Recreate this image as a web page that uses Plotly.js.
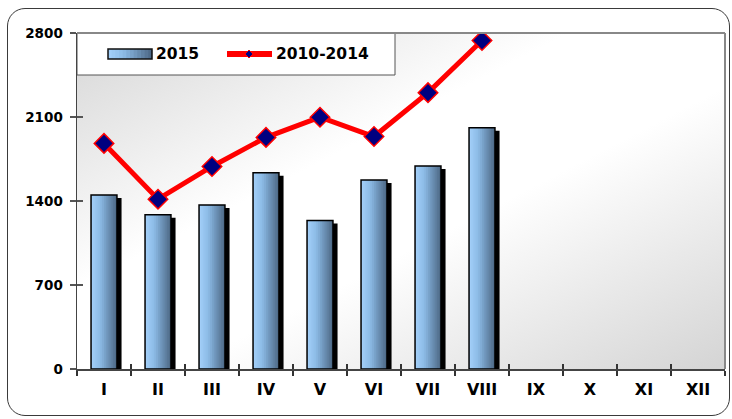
<!DOCTYPE html>
<html>
<head>
<meta charset="utf-8">
<script src="https://cdn.plot.ly/plotly-3.0.1.min.js"></script>
<style>
  html, body { margin: 0; padding: 0; background: #ffffff; }
  #wrap { position: relative; width: 732px; height: 419px; overflow: hidden; }
  #chart { position: absolute; left: 0; top: 0; width: 732px; height: 419px; }
  #frame { position: absolute; left: 7px; top: 8px; width: 721px; height: 406px;
           border: 1.5px solid #3a3a3a; border-radius: 18px; pointer-events: none; }
</style>
</head>
<body>
<div id="wrap">
  <div id="chart"></div>
  <div id="frame"></div>
</div>
<script>
// ---- data ----
const months = ['I','II','III','IV','V','VI','VII','VIII','IX','X','XI','XII'];
const months2015 = ['I','II','III','IV','V','VI','VII','VIII'];
const values2015 = [1450, 1285, 1367, 1636, 1238, 1575, 1692, 2010];
const values2010_2014 = [1880, 1415, 1688, 1930, 2098, 1937, 2303, 2737];
const yTicks = [0, 700, 1400, 2100, 2800];
const seriesNames = ['2015', '2010-2014'];

// ---- styling helpers ----
const FONT = 'DejaVu Sans, Verdana, sans-serif';
function lerp(a, b, t) { return Math.round(a + (b - a) * t); }
function hex(c) { return [parseInt(c.slice(1,3),16), parseInt(c.slice(3,5),16), parseInt(c.slice(5,7),16)]; }
const gradStops = [[0, '#a4d0fa'], [0.35, '#8cbbe6'], [1, '#4b6683']];
function gradColor(t) {
  for (let i = 0; i < gradStops.length - 1; i++) {
    const [t0, c0] = gradStops[i], [t1, c1] = gradStops[i + 1];
    if (t <= t1) {
      const u = (t - t0) / (t1 - t0), a = hex(c0), b = hex(c1);
      return 'rgb(' + lerp(a[0], b[0], u) + ',' + lerp(a[1], b[1], u) + ',' + lerp(a[2], b[2], u) + ')';
    }
  }
  return gradStops[gradStops.length - 1][1];
}

const BAR_W = 0.48;
const traces = [];

// shadow
traces.push({
  type: 'bar', x: months2015, y: values2015, base: -25,
  width: BAR_W, offset: -BAR_W / 2 + 0.085,
  marker: { color: '#000000', line: { width: 0 } },
  showlegend: false, hoverinfo: 'skip'
});
// gradient: each slice runs from its start to the right edge, later slices cover earlier ones (no seams)
const N = 14;
for (let i = 0; i < N; i++) {
  traces.push({
    type: 'bar', x: months2015, y: values2015,
    width: BAR_W - i * BAR_W / N, offset: -BAR_W / 2 + i * BAR_W / N,
    marker: { color: gradColor((i + 0.5) / N), line: { width: 0 } },
    showlegend: false, hoverinfo: 'skip'
  });
}
// outline
traces.push({
  type: 'bar', name: seriesNames[0], x: months2015, y: values2015,
  width: BAR_W, offset: -BAR_W / 2,
  marker: { color: 'rgba(0,0,0,0)', line: { color: '#000000', width: 1.5 } },
  showlegend: false
});
// line
traces.push({
  type: 'scatter', mode: 'lines+markers', name: seriesNames[1],
  x: months2015, y: values2010_2014,
  line: { color: '#ff0000', width: 5 },
  marker: { symbol: 'diamond', size: 15, color: '#000080', line: { color: '#ff0000', width: 1.5 } },
  showlegend: false
});
// helper trace for overlay (cross) tick axes
traces.push({ type: 'scatter', x: [], y: [], xaxis: 'x2', yaxis: 'y2', showlegend: false, hoverinfo: 'skip' });

// background gradient
const svgBg = "<svg xmlns='http://www.w3.org/2000/svg' width='100' height='100' viewBox='0 0 100 100' preserveAspectRatio='none'>" +
  "<defs><linearGradient id='g' x1='0' y1='0' x2='1' y2='1'>" +
  "<stop offset='0' stop-color='#d6d6d6'/><stop offset='0.38' stop-color='#ffffff'/>" +
  "<stop offset='0.58' stop-color='#ffffff'/><stop offset='1' stop-color='#d4d4d4'/>" +
  "</linearGradient></defs><rect width='100' height='100' fill='url(#g)'/></svg>";

// legend (drawn manually)
const L = 77, R = 725, T = 33, B = 369;
const px = v => (v - L) / (R - L);
const py = v => (B - v) / (B - T);
const shapes = [
  { type: 'rect', xref: 'paper', yref: 'paper', x0: px(L), x1: px(395), y0: py(75), y1: 1,
    fillcolor: '#ffffff', line: { color: '#555555', width: 1 }, layer: 'below' },
  // top & right borders of the plot area
  { type: 'line', xref: 'paper', yref: 'paper', x0: 0, x1: 1, y0: 1, y1: 1, line: { color: '#888888', width: 2 } },
  { type: 'line', xref: 'paper', yref: 'paper', x0: 1, x1: 1, y0: 0, y1: 1, line: { color: '#888888', width: 2 } },
  // legend line symbol
  { type: 'line', xref: 'paper', yref: 'paper', x0: px(227), x1: px(272), y0: py(54), y1: py(54),
    line: { color: '#ff0000', width: 6 } },
  { type: 'path', xref: 'paper', yref: 'paper',
    path: 'M' + px(249) + ',' + py(50) + ' L' + px(253) + ',' + py(54) + ' L' + px(249) + ',' + py(58) + ' L' + px(245) + ',' + py(54) + ' Z',
    fillcolor: '#000080', line: { color: '#ff0000', width: 1 } }
];
// legend bar symbol (gradient slices + outline)
const S = 12;
for (let i = 0; i < S; i++) {
  shapes.push({ type: 'rect', xref: 'paper', yref: 'paper',
    x0: px(108 + i * 44 / S), x1: px(152), y0: py(59), y1: py(49),
    fillcolor: gradColor((i + 0.5) / S), line: { width: 0 } });
}
shapes.push({ type: 'rect', xref: 'paper', yref: 'paper', x0: px(108), x1: px(152), y0: py(59), y1: py(49),
  fillcolor: 'rgba(0,0,0,0)', line: { color: '#111111', width: 1.5 } });

const annotations = [
  { xref: 'paper', yref: 'paper', x: px(154), y: py(54), xanchor: 'left', yanchor: 'middle', showarrow: false,
    text: seriesNames[0], font: { family: FONT, size: 15.5, weight: 700, color: '#000000' } },
  { xref: 'paper', yref: 'paper', x: px(274), y: py(54), xanchor: 'left', yanchor: 'middle', showarrow: false,
    text: seriesNames[1], font: { family: FONT, size: 15.5, weight: 700, color: '#000000' } }
];

const layout = {
  width: 732, height: 419,
  margin: { l: L, r: 732 - R, t: T, b: 419 - B, pad: 0 },
  paper_bgcolor: 'rgba(0,0,0,0)', plot_bgcolor: 'rgba(0,0,0,0)',
  barmode: 'overlay', showlegend: false,
  font: { family: FONT, color: '#000000' },
  xaxis: {
    type: 'category', categoryorder: 'array', categoryarray: months, tickvals: months,
    range: [-0.5, 11.5], fixedrange: true,
    tickson: 'boundaries', ticks: 'outside', ticklen: 5, tickwidth: 1.5, tickcolor: '#333333',
    showline: true, linecolor: '#444444', linewidth: 1.5, showgrid: false, zeroline: false,
    tickfont: { family: FONT, size: 16, weight: 700, color: '#000000' }, ticklabelstandoff: 5
  },
  yaxis: {
    range: [0, 2800], tickvals: yTicks, ticktext: yTicks.map(String),
    ticks: 'outside', ticklen: 6, tickwidth: 1.5, tickcolor: '#555555',
    showline: true, linecolor: '#444444', linewidth: 1.5, showgrid: false, zeroline: false,
    tickfont: { family: FONT, size: 13.5, weight: 700, color: '#000000' }, ticklabelstandoff: 4
  },
  xaxis2: {
    overlaying: 'x', anchor: 'y2', side: 'bottom', range: [-0.5, 11.5],
    tickvals: [-0.5,0.5,1.5,2.5,3.5,4.5,5.5,6.5,7.5,8.5,9.5,10.5,11.5],
    ticks: 'inside', ticklen: 5, tickwidth: 1.5, tickcolor: '#333333',
    showticklabels: false, showline: false, showgrid: false, zeroline: false
  },
  yaxis2: {
    overlaying: 'y', anchor: 'x2', side: 'left', range: [0, 2800], tickvals: yTicks,
    ticks: 'inside', ticklen: 6, tickwidth: 1.5, tickcolor: '#555555',
    showticklabels: false, showline: false, showgrid: false, zeroline: false
  },
  images: [{
    source: 'data:image/svg+xml;charset=utf-8,' + encodeURIComponent(svgBg),
    xref: 'paper', yref: 'paper', x: 0, y: 1, sizex: 1, sizey: 1,
    xanchor: 'left', yanchor: 'top', sizing: 'stretch', layer: 'below'
  }],
  shapes: shapes,
  annotations: annotations
};

Plotly.newPlot('chart', traces, layout, { displayModeBar: false, staticPlot: true });
</script>
</body>
</html>
